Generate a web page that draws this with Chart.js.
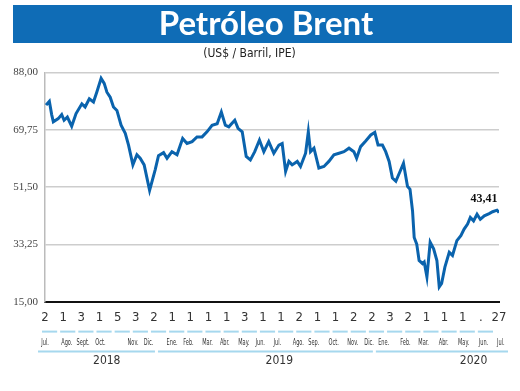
<!DOCTYPE html>
<html>
<head>
<meta charset="utf-8">
<script src="https://cdn.jsdelivr.net/npm/chart.js@4"></script>
<style>
  html, body { margin: 0; padding: 0; background: #fff; }
  #wrap { width: 520px; height: 391px; }
</style>
</head>
<body>
<div id="wrap"><canvas id="brentChart"></canvas></div>
<script>
const dayLabels = ['2', '1', '3', '1', '5', '3', '2', '1', '1', '1', '1', '3', '1', '1', '2', '1', '1', '2', '2', '3', '2', '1', '1', '1', '.', '27'];
const monthLabels = ['Jul.', 'Ago.', 'Sept.', 'Oct.', 'Nov.', 'Dic.', 'Ene.', 'Feb.', 'Mar.', 'Abr.', 'May.', 'Jun.',
    'Jul.', 'Ago.', 'Sep.', 'Oct.', 'Nov.', 'Dic.', 'Ene.', 'Feb.', 'Mar.', 'Abr.', 'May.', 'Jun.', 'Jul.'];
const yearLabels = ['2018', '2019', '2020'];
const yTicks = [15, 33.25, 51.5, 69.75, 88];

// meses transcurridos desde el 2 de julio de 2018
const monthsElapsed = [
    0.06, 0.24, 0.37, 0.46, 0.73, 0.92, 1.05, 1.23, 1.47, 1.71,
    2.03, 2.21, 2.44, 2.67, 2.85, 3.09, 3.26, 3.41, 3.59, 3.77,
    3.96, 4.19, 4.42, 4.60, 4.84, 5.06, 5.24, 5.46, 5.76, 6.07,
    6.25, 6.53, 6.72, 6.99, 7.27, 7.58, 7.82, 8.10, 8.37, 8.65,
    8.92, 9.20, 9.48, 9.71, 9.93, 10.12, 10.45, 10.63, 10.86, 11.08,
    11.31, 11.55, 11.81, 12.05, 12.32, 12.60, 12.88, 13.06, 13.25, 13.43,
    13.61, 13.89, 14.07, 14.35, 14.50, 14.62, 14.81, 15.08, 15.36, 15.63,
    15.91, 16.19, 16.46, 16.74, 17.01, 17.16, 17.38, 17.66, 17.94, 18.16,
    18.34, 18.58, 18.76, 18.95, 19.13, 19.32, 19.55, 19.74, 19.96, 20.10,
    20.24, 20.33, 20.47, 20.60, 20.79, 20.88, 21.03, 21.21, 21.40, 21.58,
    21.71, 21.84, 22.02, 22.26, 22.44, 22.68, 22.90, 23.08, 23.27, 23.42,
    23.60, 23.79, 23.97, 24.19, 24.46, 24.65, 24.89, 25.00
];
const brent = [
    77.6, 78.8, 74.5, 72.3, 73.3, 74.6, 72.8, 73.8, 70.9, 74.9,
    78.0, 77.0, 79.6, 78.6, 81.7, 86.1, 84.5, 81.7, 80.1, 77.0,
    75.9, 71.2, 68.6, 64.9, 58.6, 61.8, 60.7, 58.6, 50.5, 57.1,
    61.5, 62.5, 60.7, 62.8, 61.8, 67.0, 65.4, 66.0, 67.5, 67.5,
    69.1, 71.2, 71.7, 75.4, 71.2, 70.7, 72.8, 70.2, 69.1, 61.3,
    60.2, 62.8, 66.5, 62.8, 66.0, 62.3, 64.9, 65.4, 56.5, 59.7,
    58.6, 59.7, 58.1, 62.3, 69.1, 62.8, 63.9, 57.6, 58.1, 59.7,
    61.8, 62.3, 62.8, 63.9, 62.8, 60.7, 64.4, 66.2, 68.1, 68.9,
    64.9, 64.9, 62.8, 59.7, 54.4, 53.4, 56.5, 59.1, 51.8, 50.8,
    43.9, 35.5, 33.4, 28.2, 27.2, 27.7, 23.0, 34.0, 31.9, 28.2,
    19.8, 20.9, 26.1, 30.8, 29.8, 34.5, 36.1, 38.2, 39.8, 41.9,
    40.8, 42.9, 41.3, 42.4, 43.1, 43.7, 44.2, 43.41
];
const lastLabel = '43,41';
const titleText = 'Petróleo Brent';

// posicion (en meses) de los textos del eje, como en el original
const monthLabelAt = [0, 1.2, 2.1, 3.05, 4.85, 5.7, 7.0, 7.9, 8.95, 9.9, 10.95, 11.85,
    12.8, 13.95, 14.8, 15.9, 16.95, 17.85, 18.65, 19.85, 20.85, 21.95, 23.05, 24.15, 25.1];
const yearSpans = [[0, 6], [6, 18], [18, 25]];
const yearLabelAt = [3.4, 12.9, 23.6];

const NARROW = "'Liberation Sans Narrow', 'DejaVu Sans Condensed', sans-serif";
const SERIF = "'Liberation Serif', 'DejaVu Serif', serif";

const decoPlugin = {
    id: 'deco',
    beforeDraw(chart) {
        // franja azul con el titulo (algo corrido a la derecha, como el original)
        const ctx = chart.ctx;
        ctx.save();
        ctx.fillStyle = '#0f6cb6';
        ctx.fillRect(13, 5, 499, 38);
        ctx.fillStyle = '#fff';
        ctx.font = "bold 33px Lato, 'Open Sans', sans-serif";
        ctx.textAlign = 'center';
        ctx.textBaseline = 'alphabetic';
        ctx.fillText(titleText, 266, 35);
        ctx.restore();
    },
    afterDraw(chart) {
        const { ctx, scales } = chart;
        const x = scales.x, months = scales.months, years = scales.years;
        ctx.save();
        ctx.strokeStyle = '#a6d8ee';
        ctx.lineWidth = 2;

        // rayitas por mes encima de los meses
        const yDash = months.top - 2;
        for (let k = 0; k < monthLabels.length; k++) {
            ctx.beginPath();
            ctx.moveTo(x.getPixelForValue(k) - 3, yDash);
            ctx.lineTo(x.getPixelForValue(k + 1) - 6, yDash);
            ctx.stroke();
        }
        // linea continua por anio
        const yLine = years.top - 1;
        yearSpans.forEach(([a, b], i) => {
            const start = x.getPixelForValue(a) + (i === 0 ? -7 : 4);
            const end = x.getPixelForValue(b) + (i === yearSpans.length - 1 ? 9 : 1);
            ctx.beginPath();
            ctx.moveTo(start, yLine);
            ctx.lineTo(end, yLine);
            ctx.stroke();
        });

        // meses, con letra muy estrecha como en el original
        ctx.fillStyle = '#333';
        ctx.font = `9px ${NARROW}`;
        ctx.textAlign = 'center';
        ctx.textBaseline = 'middle';
        const yMonth = (months.top + months.bottom) / 2;
        monthLabels.forEach((label, i) => {
            ctx.save();
            ctx.translate(months.getPixelForValue(monthLabelAt[i]), yMonth);
            ctx.scale(0.62, 1);
            ctx.fillText(label, 0, 0);
            ctx.restore();
        });

        // ultimo valor
        const meta = chart.getDatasetMeta(0);
        const last = meta.data[meta.data.length - 1];
        ctx.fillStyle = '#111';
        ctx.font = `bold 12px ${SERIF}`;
        ctx.fillText(lastLabel, last.x - 15, last.y - 14);
        ctx.restore();
    }
};

const bottomAxis = (weight, labels, positions, size, padding) => ({
    type: 'linear',
    position: 'bottom',
    weight: weight,
    min: 0,
    max: 25,
    afterBuildTicks: (scale) => {
        scale.ticks = positions.map(v => ({ value: v }));
    },
    ticks: {
        autoSkip: false,
        maxRotation: 0,
        padding: padding,
        color: '#333',
        font: { family: NARROW, size: size },
        callback: (v, i) => labels[i]
    },
    grid: { display: false, drawTicks: false },
    border: { display: false }
});

const xAxis = bottomAxis(0, dayLabels, dayLabels.map((_, i) => i), 13, 8);
xAxis.border = { display: true, color: '#111', width: 2 };

const monthAxis = bottomAxis(1, monthLabels, monthLabelAt, 9, 0);
monthAxis.ticks.display = false;
monthAxis.afterFit = (scale) => { scale.height = 19; };

new Chart(document.getElementById('brentChart'), {
    type: 'line',
    data: {
        datasets: [{
            data: monthsElapsed.map((m, i) => ({ x: m, y: brent[i] })),
            borderColor: '#0a63ad',
            borderWidth: 3,
            pointRadius: 0,
            tension: 0,
            fill: false,
            xAxisID: 'x',
            yAxisID: 'y'
        }]
    },
    options: {
        responsive: true,
        maintainAspectRatio: false,
        animation: false,
        layout: { padding: { left: 0, right: 21, top: 43, bottom: 22 } },
        plugins: {
            legend: { display: false },
            tooltip: { enabled: false },
            title: { display: false },
            subtitle: {
                display: true,
                text: '(US$ / Barril, IPE)',
                color: '#222',
                font: { family: NARROW, size: 12 },
                padding: { top: 4, bottom: 11 }
            }
        },
        scales: {
            x: xAxis,
            months: monthAxis,
            years: bottomAxis(2, yearLabels, yearLabelAt, 12, 1),
            y: {
                type: 'linear',
                min: 15,
                max: 88,
                afterBuildTicks: (scale) => {
                    scale.ticks = yTicks.map(v => ({ value: v }));
                },
                afterFit: (scale) => { scale.width = 45; },
                ticks: {
                    padding: 7,
                    color: '#444',
                    font: { family: SERIF, size: 11 },
                    callback: v => v.toFixed(2).replace('.', ',')
                },
                grid: { color: '#cdcdcd', lineWidth: 1.5, drawTicks: false },
                border: { color: '#bbb', width: 1.5 }
            }
        }
    },
    plugins: [decoPlugin]
});
</script>
</body>
</html>
